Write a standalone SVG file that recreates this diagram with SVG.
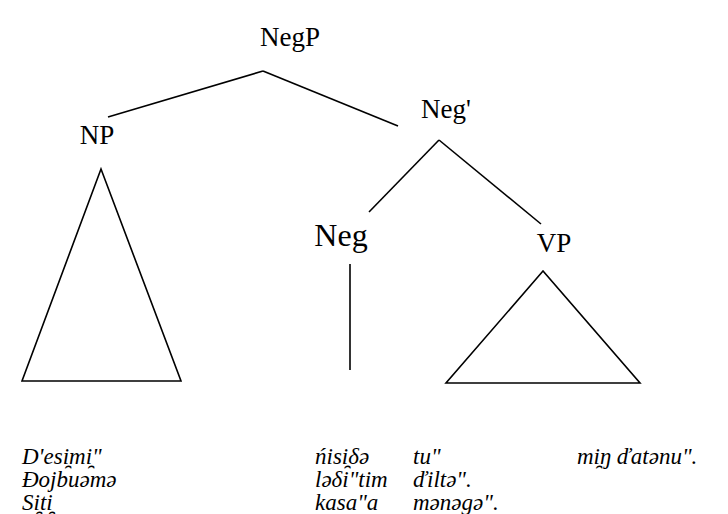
<svg xmlns="http://www.w3.org/2000/svg" width="728" height="514" viewBox="0 0 728 514" font-family="Liberation Serif, Times New Roman, serif">
<style>
text{font-family:"Liberation Serif","Times New Roman",serif;fill:#000}
.lbl{font-size:27px;text-anchor:middle}
.ex{font-style:italic;font-size:23px}
.ln{stroke:#000;stroke-width:1.6;fill:none}
</style>
<rect width="728" height="514" fill="#fff"/>
<g id="connectors">
<line class="ln" x1="263" y1="71" x2="108" y2="117"/>
<line class="ln" x1="263" y1="71" x2="398" y2="126"/>
<line class="ln" x1="439" y1="140" x2="369" y2="212"/>
<line class="ln" x1="439" y1="140" x2="541" y2="224"/>
<polygon class="ln" points="101,169 22,381 181,381"/>
<line class="ln" x1="350" y1="264" x2="350" y2="370"/>
<polygon class="ln" points="543,271 446,383 640,383"/>
</g>
<g id="negp"><text class="lbl" x="290" y="46" font-family="Liberation Serif">NegP</text></g>
<g id="np"><text class="lbl" x="97" y="144" font-family="Liberation Serif">NP</text></g>
<g id="negbar"><text class="lbl" x="446" y="118" font-family="Liberation Serif">Neg'</text></g>
<g id="neg"><text class="lbl" x="341" y="246" font-family="Liberation Serif" style="font-size:32px">Neg</text></g>
<g id="vp"><text class="lbl" x="554" y="252" font-family="Liberation Serif">VP</text></g>
<g id="examples">
<text class="ex" x="22" y="464">D'esi̯mi̯"</text>
<text class="ex" x="22" y="487">Đojbuəmə</text>
<text class="ex" x="22" y="510">Si̯ti̯</text>
<text class="ex" x="315" y="464">ńisi̯δə</text>
<text class="ex" x="315" y="487">ləδi"tim</text>
<text class="ex" x="315" y="510">kasa"a</text>
<text class="ex" x="413" y="464">tu"</text>
<text class="ex" x="413" y="487">ďiltə".</text>
<text class="ex" x="413" y="510">mənəgə".</text>
<text class="ex" x="577" y="464">mi̯ŋ ďatənu".</text>
</g>
</svg>
